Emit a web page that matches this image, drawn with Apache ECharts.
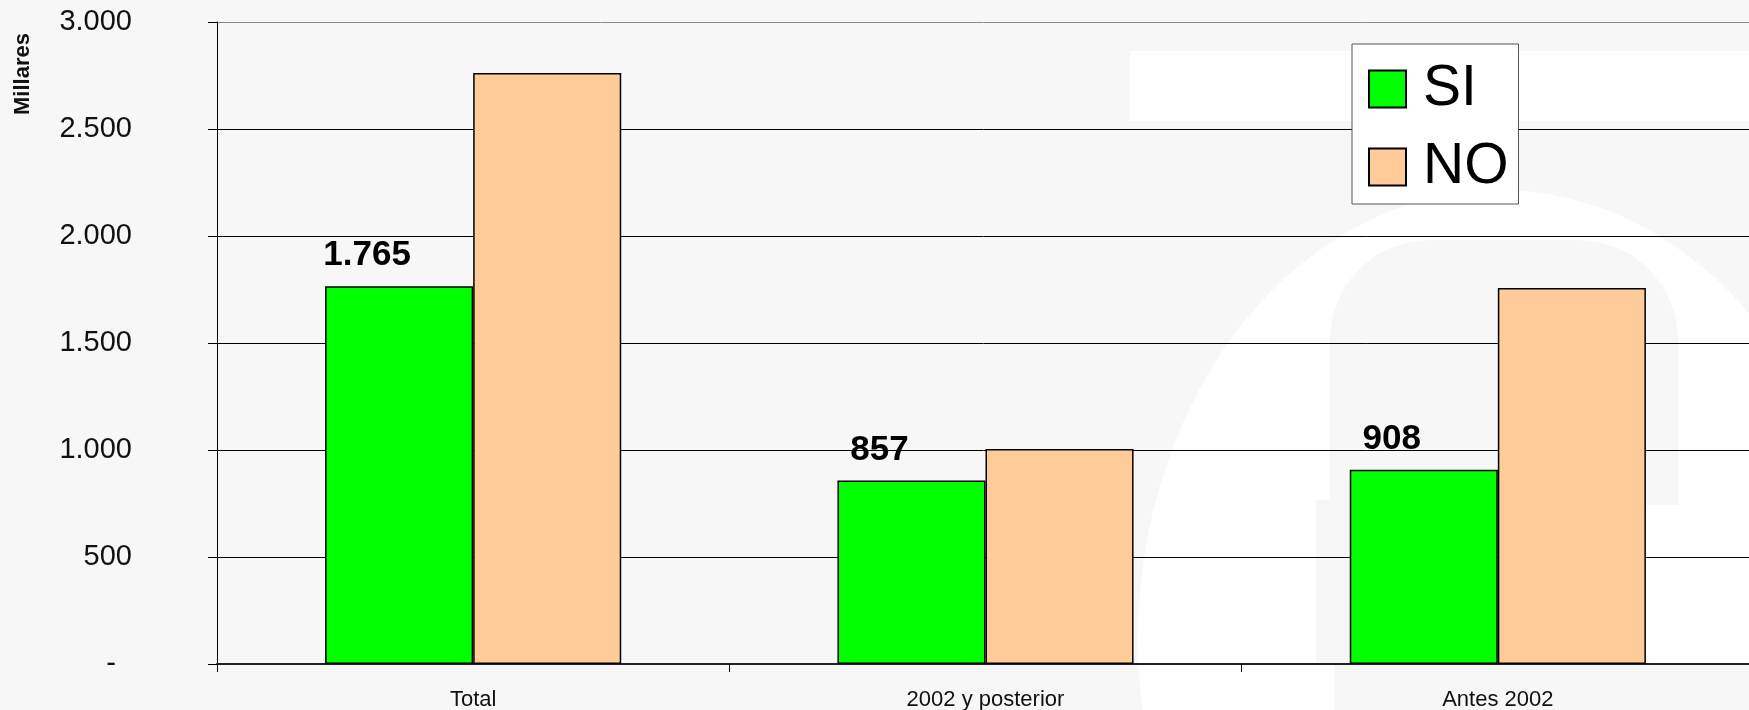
<!DOCTYPE html>
<html>
<head>
<meta charset="utf-8">
<script src="https://cdn.jsdelivr.net/npm/echarts@6/dist/echarts.min.js"></script>
<style>
  html, body { margin: 0; padding: 0; background: #f7f7f7; }
  #chart { width: 1749px; height: 710px; }
</style>
</head>
<body>
<div id="chart"></div>
<script>
// data (miles)
var categories = ['Total', '2002 y posterior', 'Antes 2002'];
var siValues = [1765, 857, 908];
var noValues = [2762, 1005, 1757];
var yTicks = { min: 0, max: 3000, step: 500 };

function fmt(v) {
    return String(v).replace(/\B(?=(\d{3})+(?!\d))/g, '.');
}

var chart = echarts.init(document.getElementById('chart'));

// faint white logo watermark behind the plot
var watermark = [
    { type: 'rect', z: -10, shape: { x: 1130, y: 51, width: 619, height: 70 }, style: { fill: '#ffffff' } },
    { type: 'circle', z: -10, x: 1500, y: 640, scaleY: 450 / 362, shape: { cx: 0, cy: 0, r: 362 }, style: { fill: '#ffffff' } },
    { type: 'rect', z: -9, shape: { x: 1330, y: 240, width: 348, height: 265, r: [100, 100, 0, 0] }, style: { fill: '#f7f7f7' } },
    { type: 'rect', z: -9, shape: { x: 1316, y: 500, width: 330, height: 163 }, style: { fill: '#f7f7f7' } },
    { type: 'rect', z: -9, shape: { x: 1334, y: 665, width: 415, height: 45 }, style: { fill: '#f7f7f7' } }
];

chart.setOption({
    backgroundColor: '#f7f7f7',
    animation: false,
    textStyle: { fontFamily: 'Liberation Sans, Arial, sans-serif' },
    graphic: watermark.concat([
        {
            type: 'text',
            x: 23, y: 74,
            rotation: Math.PI / 2,
            style: {
                text: 'Millares',
                font: 'bold 22px "Liberation Sans", Arial, sans-serif',
                fill: '#111',
                align: 'center',
                verticalAlign: 'middle'
            }
        }
    ]),
    legend: {
        orient: 'vertical',
        left: 1352,
        top: 44,
        backgroundColor: '#ffffff',
        borderColor: '#555',
        borderWidth: 1,
        padding: [16, 10, 8, 16],
        itemGap: 20,
        itemWidth: 37,
        itemHeight: 37,
        icon: 'rect',
        textStyle: { fontSize: 57, lineHeight: 58, color: '#000', padding: [0, 0, 0, 12] },
        data: ['SI', 'NO']
    },
    grid: { left: 217, top: 22, width: 1537, bottom: 46, outerBoundsMode: 'none' },
    xAxis: {
        type: 'category',
        data: categories,
        axisLine: { lineStyle: { color: '#222', width: 2 } },
        axisTick: { show: true, length: 8, interval: 0, lineStyle: { color: '#000' } },
        axisLabel: { fontSize: 22, color: '#111', margin: 25, interval: 0 }
    },
    yAxis: {
        type: 'value',
        min: yTicks.min,
        max: yTicks.max,
        interval: yTicks.step,
        axisLine: { show: true, lineStyle: { color: '#000', width: 1 } },
        axisTick: { show: true, length: 9, lineStyle: { color: '#000' } },
        axisLabel: {
            fontSize: 29,
            color: '#111',
            margin: 85,
            formatter: function (v) { return v === 0 ? '-  ' : fmt(v); }
        },
        splitLine: {
            lineStyle: { color: ['#000', '#000', '#000', '#000', '#000', '#000', '#888'], width: 1 }
        }
    },
    series: [
        {
            name: 'SI',
            type: 'bar',
            data: siValues,
            barGap: '0%',
            barCategoryGap: '42.2%',
            itemStyle: { color: '#00ff00', borderColor: '#000', borderWidth: 1.5 },
            label: {
                show: true,
                position: 'top',
                distance: 13,
                offset: [-32, 0],
                fontSize: 35,
                fontWeight: 'bold',
                color: '#000',
                formatter: function (p) { return fmt(p.value); }
            }
        },
        {
            name: 'NO',
            type: 'bar',
            data: noValues,
            itemStyle: { color: '#ffcc99', borderColor: '#000', borderWidth: 1.5 }
        }
    ]
});
</script>
</body>
</html>
